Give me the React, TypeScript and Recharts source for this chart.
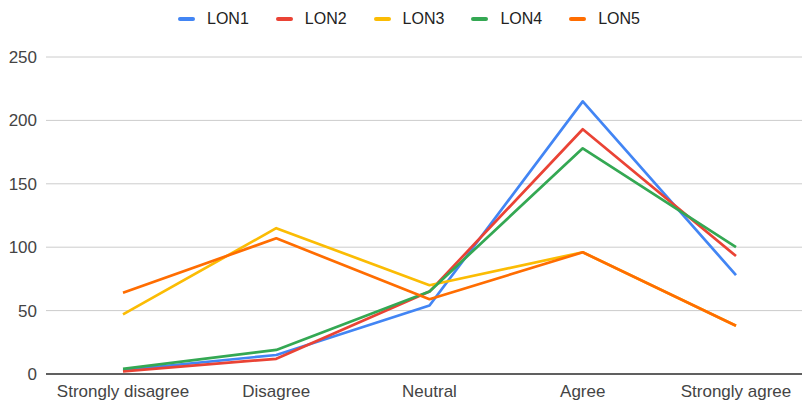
import React from "react";
import { LineChart, Line, XAxis, YAxis, CartesianGrid, Legend } from "recharts";

// Likert categories along the x axis
const categories = ["Strongly disagree", "Disagree", "Neutral", "Agree", "Strongly agree"];

// Response counts per series
const lon1 = [3, 15, 54, 215, 78];
const lon2 = [2, 12, 65, 193, 93];
const lon3 = [47, 115, 70, 96, 38];
const lon4 = [4, 19, 65, 178, 100];
const lon5 = [64, 107, 59, 96, 38];

const yTicks = [0, 50, 100, 150, 200, 250];

const seriesNames = ["LON1", "LON2", "LON3", "LON4", "LON5"];
const seriesValues = [lon1, lon2, lon3, lon4, lon5];
const seriesColors = ["#4285F4", "#EA4335", "#FBBC04", "#34A853", "#FF6D01"];

const data = categories.map((name, i) => {
  const row: Record<string, string | number> = { name };
  seriesNames.forEach((s, k) => {
    row[s] = seriesValues[k][i];
  });
  return row;
});

const FONT = "Arial, 'Liberation Sans', sans-serif";

const LegendContent = () => (
  <div
    style={{
      display: "flex",
      alignItems: "center",
      paddingLeft: 178,
      height: 22,
      fontFamily: FONT,
      fontSize: 16,
      color: "#222",
    }}
  >
    {seriesNames.map((s, k) => (
      <div key={s} style={{ display: "flex", alignItems: "center", marginRight: 27 }}>
        <span
          style={{
            display: "inline-block",
            width: 17,
            height: 4,
            borderRadius: 2,
            background: seriesColors[k],
            marginRight: 12,
          }}
        />
        <span>{s}</span>
      </div>
    ))}
  </div>
);

export default function App() {
  return (
    <div
      style={{
        position: "fixed",
        left: 0,
        top: 0,
        width: 802,
        height: 401,
        overflow: "hidden",
        background: "#fff",
      }}
    >
      <LineChart
        width={813}
        height={401}
        data={data}
        margin={{ top: 57, right: 0, bottom: 0, left: 0 }}
      >
        <CartesianGrid horizontal vertical={false} stroke="#cccccc" strokeWidth={1} />
        <XAxis
          dataKey="name"
          height={27}
          padding={{ left: 77, right: 77 }}
          axisLine={{ stroke: "#333333", strokeWidth: 1.3 }}
          tickLine={false}
          tickSize={0}
          tickMargin={11}
          interval={0}
          tick={{ fill: "#444444", fontSize: 17, fontFamily: FONT }}
        />
        <YAxis
          width={46}
          domain={[0, 250]}
          ticks={yTicks}
          axisLine={false}
          tickLine={false}
          tickSize={0}
          tickMargin={9}
          tick={{ fill: "#444444", fontSize: 17, fontFamily: FONT }}
        />
        <Legend
          layout="horizontal"
          verticalAlign="middle"
          align="center"
          wrapperStyle={{ top: 8, left: 0, width: 802, height: 22 }}
          content={<LegendContent />}
        />
        {seriesNames.map((s, k) => (
          <Line
            key={s}
            type="linear"
            dataKey={s}
            stroke={seriesColors[k]}
            strokeWidth={2.7}
            strokeLinejoin="round"
            dot={false}
            activeDot={false}
            isAnimationActive={false}
          />
        ))}
      </LineChart>
    </div>
  );
}
